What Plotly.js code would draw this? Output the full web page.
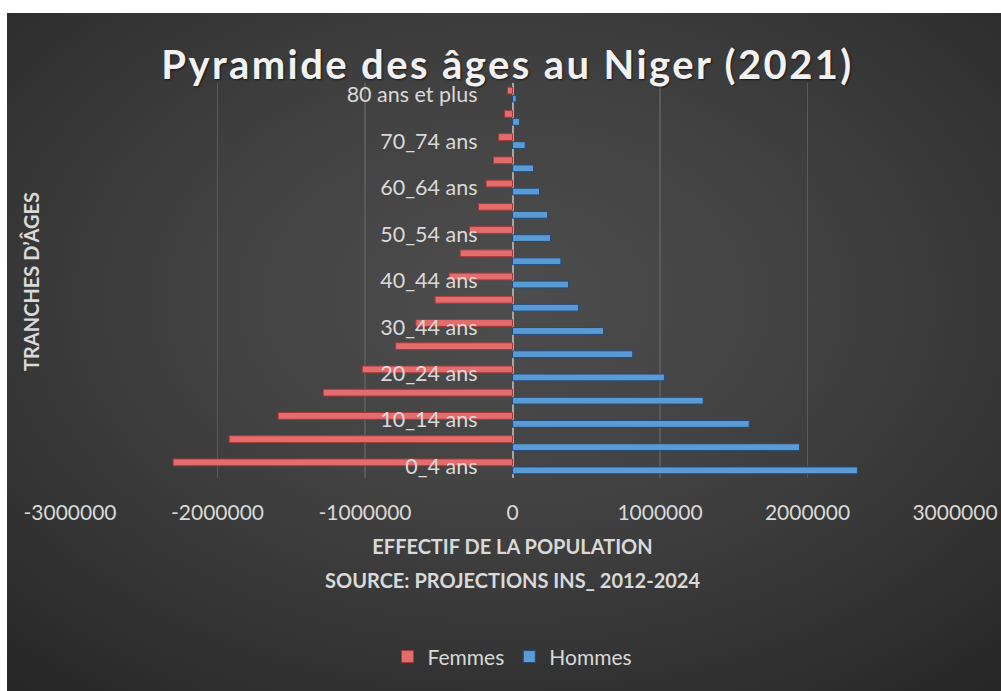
<!DOCTYPE html>
<html>
<head>
<meta charset="utf-8">
<script src="https://cdn.plot.ly/plotly-3.0.1.min.js"></script>
<style>
  html, body { margin: 0; padding: 0; background: #ffffff; width: 1001px; height: 691px; overflow: hidden; }
  #bg { position: absolute; left: 7px; top: 13px; width: 994px; height: 678px;
        background: radial-gradient(ellipse 75% 75% at 50% 42%, #4d4d4d 0%, #424242 40%, #333333 75%, #272727 100%); }
  #chart { position: absolute; left: 0; top: 0; width: 1001px; height: 691px; }
  #chart .gtitle { letter-spacing: 2.4px; }
</style>
</head>
<body>
<div id="bg"></div>
<div id="chart"></div>
<script>
// Age groups (bottom to top), as labelled in the source chart
const ageGroups = ["0_4 ans","5_9 ans","10_14 ans","15_19 ans","20_24 ans","25_29 ans","30_44 ans","35_39 ans","40_44 ans","45_49 ans","50_54 ans","55_59 ans","60_64 ans","65_69 ans","70_74 ans","75_79 ans","80 ans et plus"];
// Population by age group
const femmes = [2301000,1921000,1589000,1283000,1018000,792000,655000,525000,430000,355000,292000,231000,179000,129000,95000,54000,34000];
const hommes = [2338000,1946000,1605000,1293000,1030000,815000,618000,448000,380000,328000,258000,238000,183000,143000,86000,48000,25000];
// Axis tick values and labels
const xTickVals = [-3000000,-2000000,-1000000,0,1000000,2000000,3000000];
const xTickText = ["-3000000","-2000000","-1000000","0","1000000","2000000","3000000"];
const yTickVals = ageGroups.filter((_, i) => i % 2 === 0);

const FONT = "Lato, 'Open Sans', sans-serif";
const TXT = "#d9d9d9";

const traces = [
  {
    type: "bar", orientation: "h", name: "Hommes",
    y: ageGroups, x: hommes,
    marker: { color: "#5b9bd5", line: { color: "#244a78", width: 1 } },
    legendrank: 2, hoverinfo: "skip"
  },
  {
    type: "bar", orientation: "h", name: "Femmes",
    y: ageGroups, x: femmes.map(v => -v),
    marker: { color: "#e46c6c", line: { color: "#a33a3a", width: 1 } },
    legendrank: 1, hoverinfo: "skip"
  }
];

const layout = {
  width: 1001, height: 691,
  paper_bgcolor: "rgba(0,0,0,0)", plot_bgcolor: "rgba(0,0,0,0)",
  margin: { l: 70, r: 46, t: 83, b: 213, pad: 0 },
  barmode: "group", bargap: 0.31, bargroupgap: 0.15,
  font: { family: FONT, color: TXT },
  title: {
    text: "Pyramide des âges au Niger (2021)",
    font: { family: FONT, size: 40, color: "#f2f2f2", weight: 700, shadow: "1px 1px 2px rgba(0,0,0,0.6)" },
    x: 0.507, xanchor: "center", xref: "container",
    y: 1 - 65 / 691, yanchor: "middle", yref: "container"
  },
  xaxis: {
    range: [-3000000, 3000000],
    tickvals: xTickVals, ticktext: xTickText,
    tickfont: { family: FONT, size: 21, color: TXT },
    ticks: "", ticklabelstandoff: 20,
    showgrid: true, gridcolor: "#5a5a5a", gridwidth: 1.5,
    zeroline: true, zerolinecolor: "#a6a6a6", zerolinewidth: 2,
    showline: false, fixedrange: true,
    title: { text: "EFFECTIF DE LA POPULATION", font: { family: FONT, size: 20, color: TXT, weight: 700 }, standoff: 16 }
  },
  yaxis: {
    type: "category", range: [-0.5, 16.5],
    anchor: "free", position: 0.5, side: "left",
    tickvals: yTickVals,
    tickfont: { family: FONT, size: 21.5, color: TXT },
    ticks: "", ticklabelstandoff: 35,
    showgrid: false, showline: false, zeroline: false, fixedrange: true
  },
  legend: {
    orientation: "h", x: 0.5, xanchor: "center", y: -0.453, yanchor: "middle",
    font: { family: FONT, size: 21, color: TXT },
    itemwidth: 30, bgcolor: "rgba(0,0,0,0)"
  },
  annotations: [
    {
      text: "SOURCE: PROJECTIONS INS_ 2012-2024", showarrow: false,
      xref: "paper", yref: "paper", x: 0.5, y: (478 - 580) / 395, xanchor: "center", yanchor: "middle",
      font: { family: FONT, size: 20, color: TXT, weight: 700 }
    },
    {
      text: "TRANCHES D’ÂGES", showarrow: false, textangle: -90,
      xref: "paper", yref: "paper", x: (31 - 70) / 885, y: (478 - 282) / 395, xanchor: "center", yanchor: "middle",
      font: { family: FONT, size: 20, color: TXT, weight: 700 }
    }
  ]
};

Plotly.newPlot("chart", traces, layout, { displayModeBar: false, staticPlot: true });
</script>
</body>
</html>
